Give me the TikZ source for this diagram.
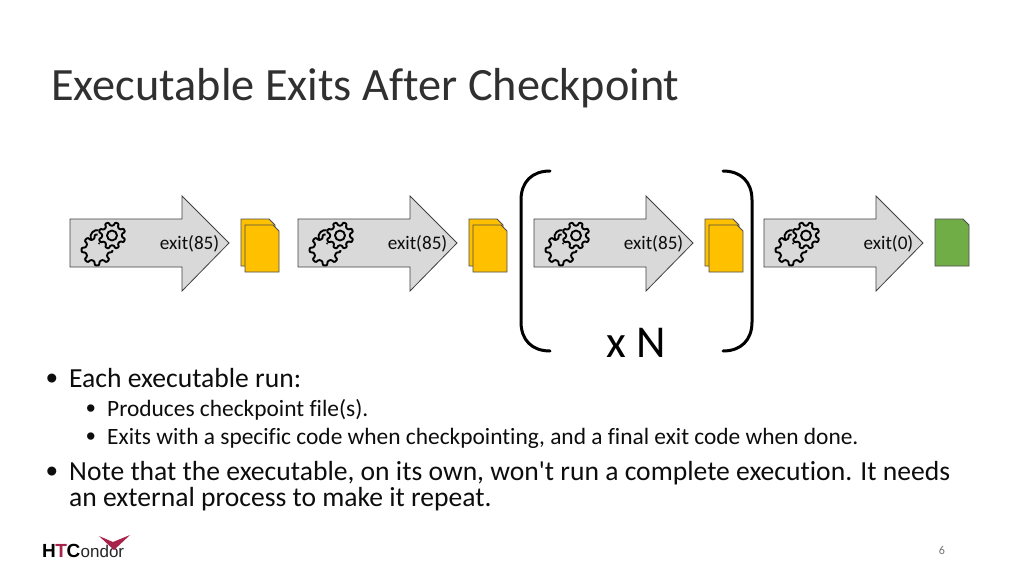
\documentclass[tikz,border=0pt]{standalone}
\usepackage{fontspec}
\newfontfamily\carlito[Ligatures=NoCommon]{Carlito}
\newfontfamily\logofont{Liberation Sans}
\definecolor{arrowfill}{HTML}{D9D9D9}
\definecolor{docyellow}{HTML}{FFC000}
\definecolor{docgreen}{HTML}{70AD47}
\definecolor{titletext}{HTML}{303030}
\definecolor{bodytext}{HTML}{0D0D0D}
\definecolor{logored}{HTML}{A8234A}
\newcommand{\pxfont}[1]{\fontsize{#1}{#1}\selectfont}
\tikzset{
  x=1pt,y=-1pt,
  bigarrow/.style={draw=black!75,fill=arrowfill,line width=.8pt,line join=miter},
  gearline/.style={draw=black,line width=1.9pt,line join=round,line cap=round},
  doc/.style={draw=black!70,line width=.8pt,line join=miter},
  bracket/.style={draw=black,line width=3pt,line cap=round},
  exitlabel/.style={anchor=east,font=\pxfont{19.2},text=bodytext,inner sep=0pt},
  bullet/.style={anchor=base west,text=bodytext,inner sep=0pt},
  lone/.style={bullet,font=\pxfont{27.6}},
  ltwo/.style={bullet,font=\pxfont{23.4}},
  mone/.style={bullet,font=\logofont\pxfont{33}},
  mtwo/.style={bullet,font=\logofont\pxfont{27}}
}
% gear: cx cy outer inner teeth rotation
\newcommand{\gearshape}[6]{%
  \pgfmathsetmacro{\gstep}{360/#5}%
  \draw[gearline,rounded corners=.8pt] ({#1+#4*cos(#6-.30*\gstep)},{#2+#4*sin(#6-.30*\gstep)})
   \foreach \gi in {1,...,#5}{
     -- ({#1+#3*cos(#6+(\gi-1)*\gstep-.17*\gstep)},{#2+#3*sin(#6+(\gi-1)*\gstep-.17*\gstep)})
     -- ({#1+#3*cos(#6+(\gi-1)*\gstep+.17*\gstep)},{#2+#3*sin(#6+(\gi-1)*\gstep+.17*\gstep)})
     -- ({#1+#4*cos(#6+(\gi-1)*\gstep+.30*\gstep)},{#2+#4*sin(#6+(\gi-1)*\gstep+.30*\gstep)})
     -- ({#1+#4*cos(#6+\gi*\gstep-.30*\gstep)},{#2+#4*sin(#6+\gi*\gstep-.30*\gstep)})
   } -- cycle;}
\newcommand{\gearpair}[2]{%
  \begin{scope}[shift={(#1,#2)}]
    \gearshape{0}{0}{15.5}{11.5}{8}{0}
    \draw[gearline] (2,-6.5) arc[start angle=75,end angle=-200,radius=6.8,x=1pt,y=1pt];
    \fill[arrowfill] (15,-14.5) circle[radius=14.5];
    \gearshape{15}{-14.5}{13.5}{10}{8}{22}
    \draw[gearline] (15,-14.5) circle[radius=5];
  \end{scope}}
\newcommand{\runarrow}[5]{%
  \path[bigarrow] (#1,219) -- (#2,219) -- (#2,196) -- (#3,243) -- (#2,291) -- (#2,267) -- (#1,267) -- cycle;
  \gearpair{#1+27}{250}
  \node[exitlabel] (#5) at (#3-9.5,244) {#4};}
\newcommand{\twodocs}[1]{%
  \path[doc,fill=docyellow] (#1,219) -- (#1+28,219) -- (#1+34,225) -- (#1+34,266) -- (#1,266) -- cycle;
  \path[doc,fill=docyellow] (#1+4,225) -- (#1+32,225) -- (#1+38,231) -- (#1+38,272) -- (#1+4,272) -- cycle;}
\begin{document}
\begin{tikzpicture}
\carlito
\useasboundingbox (0,0) rectangle (1024,576);
\fill[white] (0,0) rectangle (1024,576);
\node[anchor=base west,inner sep=0pt,text=titletext,font=\pxfont{46.3}] (title) at (51,100) {Executable Exits After Checkpoint};

\runarrow{70}{182}{229}{exit(85)}{e1}
\twodocs{241}
\runarrow{298}{410}{457}{exit(85)}{e2}
\twodocs{469}
\runarrow{534}{646}{693}{exit(85)}{e3}
\twodocs{705}
\runarrow{764}{876}{923}{exit(0)}{e4}
\path[doc,fill=docgreen] (935,219) -- (963,219) -- (969,225) -- (969,266) -- (935,266) -- cycle;

\draw[bracket] (550,171) .. controls (532,171) and (521,182) .. (521,200) -- (521,322) .. controls (521,340) and (532,351) .. (550,351);
\draw[bracket] (723,171) .. controls (741,171) and (752,182) .. (752,200) -- (752,322) .. controls (752,340) and (741,351) .. (723,351);
\node[anchor=base,inner sep=0pt,text=black,font=\pxfont{45.6}] (xn) at (636,357) {x N};

\node[mone] (b1m) at (46,389) {•};
\node[lone] (b1) at (69,387) {Each executable run:};
\node[mtwo] (b2m) at (86,417) {•};
\node[ltwo] (b2) at (107,416) {Produces checkpoint file(s).};
\node[mtwo] (b3m) at (86,445) {•};
\node[ltwo] (b3) at (107,444) {Exits with a specific code when checkpointing, and a final exit code when done.};
\node[mone] (b4m) at (46,482) {•};
\node[lone] (b4) at (69,480) {Note that the executable, on its own, won't run a complete execution. It needs};
\node[lone] (b5) at (69,506) {an external process to make it repeat.};

\node[anchor=base,inner sep=0pt,text=black!55,font=\pxfont{12}] (pg) at (942,554) {6};

\node[anchor=base west,inner sep=0pt,font=\logofont\pxfont{19}\bfseries] (lhtc) at (42,557) {\textcolor{black}{H}\kern-.5pt\textcolor{logored}{T}\kern-.5pt\textcolor{black}{C}};
\node[anchor=base west,inner sep=0pt,font=\logofont\pxfont{17},text=black!85] (lond) at (lhtc.base east) {ondor};
\fill[logored] (99,536) -- (113,542) -- (130,535) -- (114,550) -- cycle;
\end{tikzpicture}
\end{document}
